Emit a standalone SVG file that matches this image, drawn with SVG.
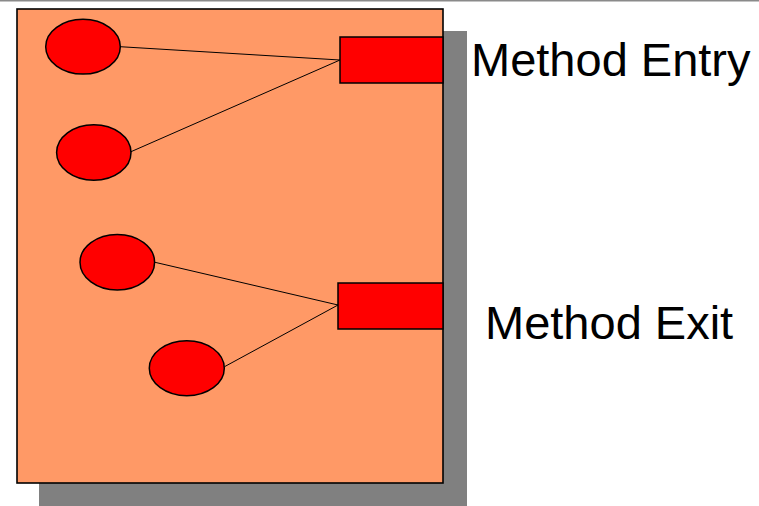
<svg xmlns="http://www.w3.org/2000/svg" width="759" height="506" viewBox="0 0 759 506">
  <style>
    .shadow { fill: #808080; }
    .frame { fill: #FF9966; stroke: #000; stroke-width: 1.6; }
    .node { fill: #FF0000; stroke: #000; stroke-width: 1.5; }
    .port { fill: #FF0000; stroke: #000; stroke-width: 1.5; }
    .link { stroke: #000; stroke-width: 1; fill: none; }
    .label { font-family: "Liberation Sans", Arial, sans-serif; font-size: 47px; fill: #000; }
  </style>
  <rect x="0" y="0" width="759" height="506" fill="#fff"/>
  <!-- thin rule along the top edge -->
  <rect x="0" y="0" width="759" height="1.5" fill="#8a8a8a"/>

  <!-- method body with drop shadow -->
  <g id="method-body">
    <rect class="shadow" x="39" y="31" width="428" height="480"/>
    <rect class="frame" x="17" y="9" width="426" height="474"/>
  </g>

  <g id="connectors">
    <line class="link" x1="120" y1="46.7" x2="340" y2="60"/>
    <line class="link" x1="131" y1="151.7" x2="340" y2="60"/>
    <line class="link" x1="155" y1="262.3" x2="338" y2="305"/>
    <line class="link" x1="224.5" y1="366.7" x2="338" y2="305"/>
  </g>

  <g id="node-1"><ellipse class="node" cx="83" cy="46.7" rx="37.3" ry="27.4"/></g>
  <g id="node-2"><ellipse class="node" cx="93.8" cy="152.5" rx="37.2" ry="27.8"/></g>
  <g id="node-3"><ellipse class="node" cx="117.3" cy="262.2" rx="37.3" ry="27.8"/></g>
  <g id="node-4"><ellipse class="node" cx="186.8" cy="368.2" rx="37.5" ry="27.5"/></g>

  <g id="entry-port"><rect class="port" x="340" y="37" width="103" height="46"/></g>
  <g id="exit-port"><rect class="port" x="338" y="283" width="105" height="46"/></g>

  <g id="entry-label"><text class="label" x="471" y="76">Method Entry</text></g>
  <g id="exit-label"><text class="label" x="485" y="339">Method Exit</text></g>
</svg>
